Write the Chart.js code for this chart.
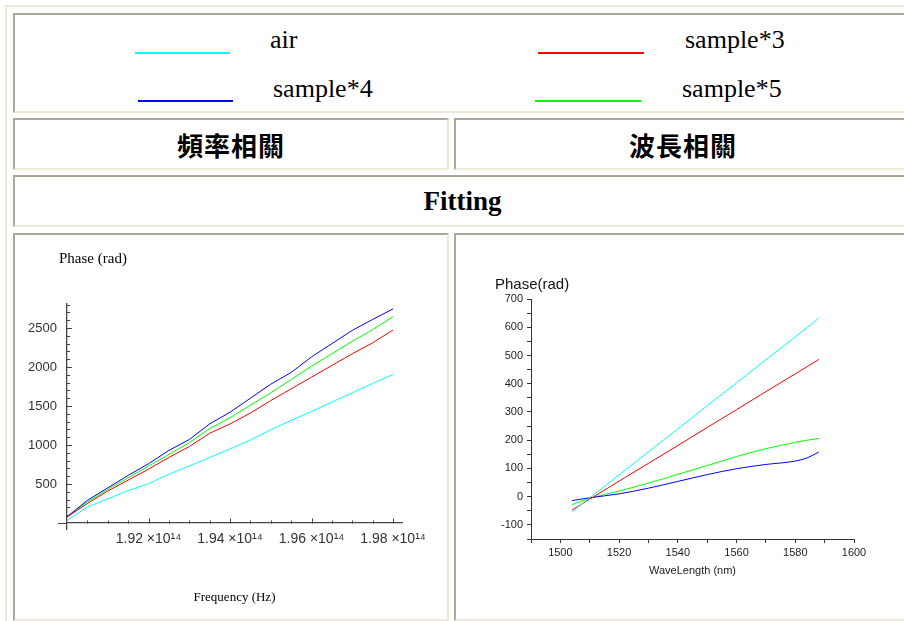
<!DOCTYPE html>
<html>
<head>
<meta charset="utf-8">
<script src="https://cdn.jsdelivr.net/npm/chart.js@4.4.0/dist/chart.umd.min.js"></script>
<style>
html, body { margin: 0; padding: 0; width: 904px; height: 621px; overflow: hidden; background: #fff; }
.outer { position: absolute; left: 5px; top: 5px; width: 1000px; height: 700px; box-sizing: border-box;
  border-left: 2px solid #ece9d8; border-top: 2px solid #ece9d8; }
.cell { position: absolute; box-sizing: border-box;
  border-top: 2px solid #aca899; border-left: 2px solid #aca899;
  border-bottom: 2px solid #ece9d8; border-right: 2px solid #ece9d8;
  display: flex; align-items: center; justify-content: center; }
.cjk { font-family: "Noto Sans CJK TC"; font-weight: bold; font-size: 26px; letter-spacing: 1px; }
.fit { font-family: "Liberation Serif"; font-weight: bold; font-size: 27px; }
.swatch { position: absolute; height: 2px; }
.lbl { position: absolute; font-family: "Liberation Serif"; font-size: 26px; line-height: 26px; white-space: nowrap; }
canvas { position: absolute; }
</style>
</head>
<body>
<div class="outer"></div>
<div class="cell" style="left:13px;top:13px;width:900px;height:100px;"></div>
<div class="swatch" style="left:135px;top:52px;width:95px;background:#00ffff;"></div>
<div class="lbl" style="left:270px;top:27px;">air</div>
<div class="swatch" style="left:538px;top:52px;width:106px;background:#ff0000;"></div>
<div class="lbl" style="left:685px;top:27px;">sample*3</div>
<div class="swatch" style="left:138px;top:100px;width:95px;background:#0000ff;"></div>
<div class="lbl" style="left:273px;top:76px;">sample*4</div>
<div class="swatch" style="left:535px;top:100px;width:106px;background:#00ff00;"></div>
<div class="lbl" style="left:682px;top:76px;">sample*5</div>

<div class="cell cjk" style="left:13px;top:118px;width:436px;height:52px;">頻率相關</div>
<div class="cell cjk" style="left:454px;top:118px;width:458px;height:52px;">波長相關</div>
<div class="cell fit" style="left:13px;top:175px;width:899px;height:52px;">Fitting</div>
<div class="cell" style="left:13px;top:233px;width:436px;height:388px;"></div>
<div class="cell" style="left:454px;top:233px;width:458px;height:388px;"></div>

<canvas id="freqChart" width="432" height="384" style="left:15px;top:235px;"></canvas>
<canvas id="waveChart" width="454" height="384" style="left:456px;top:235px;"></canvas>

<script>
// frequency in units of 1e14 Hz
const freq = [1.900, 1.905, 1.910, 1.915, 1.920, 1.925, 1.930, 1.935, 1.940, 1.945, 1.950, 1.955, 1.960, 1.965, 1.970, 1.975, 1.980];
const freqAir = [35, 205, 310, 415, 505, 625, 730, 840, 950, 1065, 1195, 1315, 1430, 1550, 1670, 1790, 1905];
const freqS3  = [75, 250, 410, 550, 690, 840, 980, 1150, 1270, 1410, 1570, 1720, 1870, 2020, 2170, 2310, 2475];
const freqS4  = [80, 290, 450, 610, 760, 930, 1070, 1270, 1420, 1600, 1780, 1930, 2130, 2300, 2470, 2610, 2745];
const freqS5  = [80, 270, 430, 580, 730, 880, 1030, 1210, 1350, 1510, 1670, 1840, 2010, 2170, 2330, 2480, 2645];
const freqXTicks = [1.92, 1.94, 1.96, 1.98];
const freqYTicks = [500, 1000, 1500, 2000, 2500];

// wavelength in nm
const wave = [1504, 1510, 1520, 1530, 1540, 1550, 1560, 1570, 1580, 1584, 1588];
const waveAir = [-53, -4, 77, 159, 240, 322, 403, 485, 566, 599, 632];
const waveS3  = [-47, -9, 55, 118, 181, 245, 308, 372, 435, 460, 486];
const waveS4  = [-14, -4, 10, 30, 54, 78, 99, 114, 126, 137, 158];
const waveS5  = [-28, -6, 20, 48, 79, 110, 142, 170, 192, 200, 206];

const names = ['air', 'sample*3', 'sample*4', 'sample*5'];
const colors = ['#00ffff', '#ff0000', '#0000ff', '#00ff00'];

function pts(xs, ys) { return xs.map((x, i) => ({ x: x, y: ys[i] })); }
function setTicks(vals) { return s => { s.ticks = vals.map(v => ({ value: v })); }; }

// horizontal axis caption placed relative to the chart area
const cornerText = {
  id: 'cornerText',
  afterDraw(chart, args, o) {
    const ctx = chart.ctx;
    ctx.save();
    ctx.font = o.font;
    ctx.fillStyle = o.color;
    ctx.textBaseline = 'middle';
    ctx.fillText(o.text, chart.chartArea.left + o.dx, chart.chartArea.top + o.dy);
    ctx.restore();
  }
};

// inward major/minor ticks like the Mathematica plot
const mmaTicks = {
  id: 'mmaTicks',
  afterDatasetsDraw(chart) {
    const { ctx, scales: { x, y } } = chart;
    const x0 = x.getPixelForValue(freq[0]);
    const y0 = Math.round(y.getPixelForValue(0)) + 0.5;
    ctx.save();
    ctx.strokeStyle = '#444';
    ctx.lineWidth = 1;
    ctx.beginPath();
    ctx.moveTo(x0 - 9, y0); ctx.lineTo(x0, y0);
    for (let k = 1; k <= 28; k++) {
      const py = Math.round(y.getPixelForValue(k * 100)) + 0.5;
      const len = k % 5 === 0 ? 5 : 3;
      ctx.moveTo(x0, py); ctx.lineTo(x0 + len, py);
    }
    for (let k = 1; k <= 16; k++) {
      const px = Math.round(x.getPixelForValue(freq[0] + k * 0.005)) + 0.5;
      const len = k % 4 === 0 ? 5 : 3;
      ctx.moveTo(px, y0); ctx.lineTo(px, y0 - len);
    }
    ctx.stroke();
    ctx.restore();
  }
};

const freqSeries = [freqAir, freqS3, freqS4, freqS5];
new Chart(document.getElementById('freqChart'), {
  type: 'line',
  data: {
    datasets: freqSeries.map((s, i) => ({
      label: names[i], data: pts(freq, s), borderColor: colors[i], borderWidth: 1,
      pointRadius: 0, tension: 0, fill: false
    }))
  },
  options: {
    responsive: false, animation: false, events: [],
    layout: { padding: { left: 8, right: 45, top: 69, bottom: 90 } },
    plugins: {
      legend: { display: false }, tooltip: { enabled: false },
      cornerText: { text: 'Phase (rad)', font: '15px "Liberation Serif"', color: '#000', dx: -8, dy: -45 }
    },
    scales: {
      x: {
        type: 'linear', min: freq[0], max: 1.9822, position: { y: 0 },
        afterBuildTicks: setTicks(freqXTicks),
        grid: { display: false, drawTicks: false },
        border: { color: '#444', width: 1.3 },
        ticks: {
          autoSkip: false, maxRotation: 0, padding: 8,
          color: '#333', font: { family: 'Liberation Sans', size: 14 },
          callback: v => v.toFixed(2) + ' \u00d710\u00b9\u2074'
        },
        title: { display: true, text: 'Frequency (Hz)', color: '#000',
          font: { family: 'Liberation Serif', size: 13 }, padding: { top: 34 } }
      },
      y: {
        type: 'linear', min: -77, max: 2808, position: 'left',
        afterBuildTicks: setTicks(freqYTicks),
        afterFit: s => { s.width = 44; },
        grid: { display: false, drawTicks: false },
        border: { color: '#444', width: 1.3 },
        ticks: {
          autoSkip: false, padding: 10,
          color: '#333', font: { family: 'Liberation Sans', size: 13 },
          callback: v => v
        }
      }
    }
  },
  plugins: [cornerText, mmaTicks]
});

const waveSeries = [waveAir, waveS3, waveS4, waveS5];
new Chart(document.getElementById('waveChart'), {
  type: 'line',
  data: {
    datasets: waveSeries.map((s, i) => ({
      label: names[i], data: pts(wave, s), borderColor: colors[i], borderWidth: 1,
      pointRadius: 0, cubicInterpolationMode: 'monotone', fill: false
    }))
  },
  options: {
    responsive: false, animation: false, events: [],
    layout: { padding: { left: 35, right: 56, top: 64, bottom: 41 } },
    plugins: {
      legend: { display: false }, tooltip: { enabled: false },
      cornerText: { text: 'Phase(rad)', font: '15px "Liberation Sans"', color: '#111', dx: -36, dy: -14 }
    },
    scales: {
      x: {
        type: 'linear', min: 1490, max: 1600, position: 'bottom',
        afterFit: s => { s.height = 39; },
        grid: { drawOnChartArea: false, tickLength: 4, color: '#333', tickColor: '#333' },
        border: { color: '#333', width: 1 },
        ticks: {
          stepSize: 10, autoSkip: false, maxRotation: 0, padding: 3,
          color: '#222', font: { family: 'Liberation Sans', size: 11 },
          callback: v => v % 20 === 0 ? v : ''
        },
        title: { display: true, text: 'WaveLength (nm)', color: '#222',
          font: { family: 'Liberation Sans', size: 11 }, padding: { top: 0, bottom: 0 } }
      },
      y: {
        type: 'linear', min: -150, max: 700, position: 'left',
        afterFit: s => { s.width = 40; },
        grid: { drawOnChartArea: false, tickLength: 4, color: '#333', tickColor: '#333' },
        border: { color: '#333', width: 1 },
        ticks: {
          stepSize: 50, autoSkip: false, padding: 4,
          color: '#222', font: { family: 'Liberation Sans', size: 11 },
          callback: v => v % 100 === 0 ? v : ''
        }
      }
    }
  },
  plugins: [cornerText]
});
</script>
</body>
</html>
